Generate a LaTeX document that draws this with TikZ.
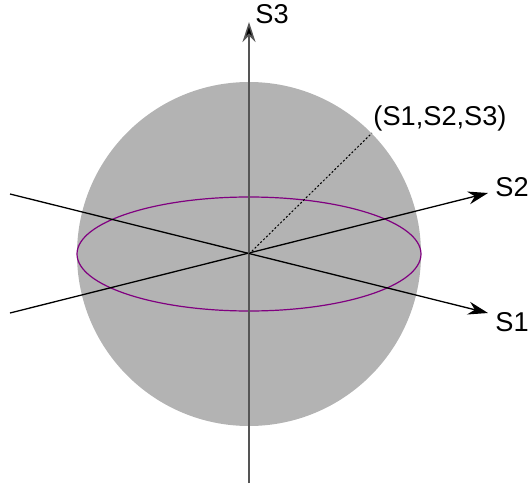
\documentclass[tikz,border=0pt]{standalone}
\usepackage{fontspec}
\setmainfont{Liberation Sans}
\usetikzlibrary{arrows.meta}
\definecolor{spherefill}{RGB}{179, 179, 179}
\definecolor{equator}{RGB}{128, 0, 128}
\definecolor{axisgray}{RGB}{85, 85, 85}

\begin{document}
\begin{tikzpicture}[x=0.5pt, y=-0.5pt,
      ax/.style={draw=black, line width=0.65pt,
                 -{Stealth[length=10pt, width=6.5pt]}},
      vax/.style={draw=axisgray, line width=0.75pt,
                  -{Stealth[length=10pt, width=6.5pt, fill=black]}},
      lbl/.style={font=\fontsize{13.6}{15}\selectfont, inner sep=0pt},
    ]
    \useasboundingbox (0,0) rectangle (531,487);
    \coordinate (O) at (249,254);
    %% sphere and equator
    \fill[spherefill] (O) circle[radius=172];
    \draw[equator, line width=0.6pt] (O) ellipse[x radius=172, y radius=57];
    %% axis ends
    \coordinate (s1a) at (10,194);
    \coordinate (s2a) at (10,313);
    \coordinate (s3a) at (249,483);
    \node[lbl] (s1) at (512,322) {S1};
    \node[lbl] (s2) at (512,187) {S2};
    \node[lbl] (s3) at (272,14) {S3};
    \coordinate (s1b) at (488,313);
    \coordinate (s2b) at (488,193);
    \coordinate (s3b) at (249,22);
    \draw[ax] (s1a) -- (s1b);
    \draw[ax] (s2a) -- (s2b);
    \draw[vax] (s3a) -- (s3b);
    %% point on the sphere
    \node[lbl] (pt) at (440,118) {(S1,S2,S3)};
    \coordinate (p) at (372,133);
    \draw[black, line width=0.5pt, dash pattern=on 1pt off 1pt] (O) -- (p);
\end{tikzpicture}
\end{document}
